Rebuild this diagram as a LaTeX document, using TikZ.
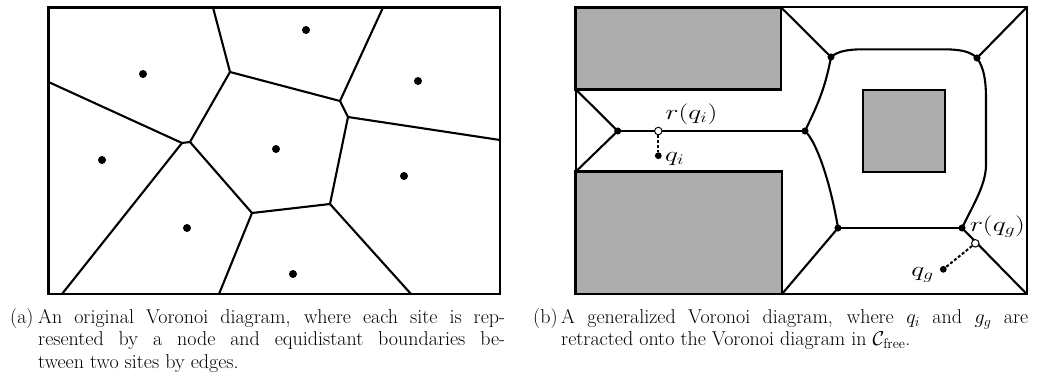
\RequirePackage{fix-cm}
\documentclass[tikz,border=0pt]{standalone}
\usepackage{amsmath}
\usepackage{graphicx}
\definecolor{obgray}{RGB}{173,173,173}
\begin{document}
\begin{tikzpicture}[x=1pt,y=-1pt,
  frame/.style={line width=2.7pt},
  vedge/.style={line width=2.1pt, line join=round},
  site/.style={circle,fill=black,inner sep=0pt,minimum size=8pt},
  vtx/.style={circle,fill=black,inner sep=0pt,minimum size=6.8pt},
  proj/.style={circle,draw=black,fill=white,line width=1pt,inner sep=0pt,minimum size=7.5pt},
  obst/.style={fill=obgray,draw=black,line width=2.7pt},
  ret/.style={line width=2pt,dash pattern=on 3pt off 2pt},
  lbl/.style={font=\fontsize{20}{24}\selectfont,inner sep=0pt},
  capt/.style={anchor=north west,inner sep=0pt,text width=495pt,align=justify,
    font=\fontsize{20}{22.5}\selectfont}
]
\useasboundingbox (0,0) rectangle (1038,380);

% ---------- (a) ----------
\coordinate (t1) at (213,7.5);
\coordinate (t2) at (383,7.5);
\coordinate (r1) at (500,140);
\coordinate (b1) at (411,294);
\coordinate (b2) at (219,294);
\coordinate (b3) at (62,294);
\coordinate (l1) at (48.5,82);
\coordinate (v1) at (230,72);
\coordinate (v2) at (340,101);
\coordinate (v3) at (348,117);
\coordinate (v4) at (330,204);
\coordinate (v5) at (252,213);
\coordinate (v6) at (190,142);
\coordinate (v7) at (182,143);
\draw[vedge] (t1)--(v1)--(v2)--(t2);
\draw[vedge] (v2)--(v3)--(r1);
\draw[vedge] (v3)--(v4)--(b1);
\draw[vedge] (v4)--(v5)--(b2);
\draw[vedge] (v5)--(v6)--(v1);
\draw[vedge] (v6)--(v7)--(l1);
\draw[vedge] (v7)--(b3);
\draw[frame] (48.5,7.5) rectangle (500,294);
\node[site] (s1) at (306,30) {};
\node[site] (s2) at (143,74) {};
\node[site] (s3) at (418,81) {};
\node[site] (s4) at (102,160) {};
\node[site] (s5) at (276,149) {};
\node[site] (s6) at (404,176) {};
\node[site] (s7) at (187,228) {};
\node[site] (s8) at (293,274) {};

\node[capt] (capa) at (10,307.3) {\hangindent=28pt\hangafter=1\noindent\strut\makebox[28pt][l]{(a)}An original Voronoi diagram, where each site is rep-\linebreak resented by a node and equidistant boundaries be-\linebreak tween two sites by edges.\par};

% ---------- (b) ----------
\coordinate (TLb) at (781,7.3);
\coordinate (TRb) at (1026.7,7.3);
\coordinate (BRb) at (1026.7,294);
\coordinate (BLb) at (782,294);
\coordinate (o1) at (575.7,89.3);
\coordinate (o2) at (575.7,171.7);
\draw[line width=2.1pt] (575.7,7.3) rectangle (1026.7,294);
\draw[obst] (575.7,7.3) rectangle (781,89.3);
\draw[obst] (575.7,171.7) rectangle (782,294);
\draw[obst,line width=2.1pt] (862.7,90) rectangle (945,171.7);

\node[vtx] (A) at (831,57) {};
\node[vtx] (B) at (977,58) {};
\node[vtx] (C) at (962,228) {};
\node[vtx] (D) at (838,228) {};
\node[vtx] (E) at (805,131) {};
\node[vtx] (F) at (617.7,131) {};

\draw[vedge] (TLb) -- (A.center);
\draw[vedge] (B.center) -- (TRb);
\draw[vedge] (C.center) -- (BRb);
\draw[vedge] (D.center) -- (BLb);
\draw[vedge] (C.center) -- (D.center);
\draw[vedge] (E.center) -- (F.center);
\draw[vedge] (o1) -- (F.center) -- (o2);
\draw[vedge] (A.center) .. controls (838,51) and (848,49.5) .. (862,49.3) -- (945,49.3) .. controls (962,49.5) and (971,52) .. (B.center);
\draw[vedge] (B.center) .. controls (984,68) and (986,80) .. (986,100) -- (986,165) .. controls (986,185) and (972,207) .. (C.center);
\draw[vedge] (E.center) .. controls (816,108) and (825,90) .. (A.center);
\draw[vedge] (E.center) .. controls (816,141) and (830,180) .. (D.center);
\node[vtx] at (A) {};
\node[vtx] at (B) {};
\node[vtx] at (C) {};
\node[vtx] at (D) {};
\node[vtx] at (E) {};
\node[vtx] at (F) {};

\node[proj] (rqi) at (658.3,131) {};
\node[vtx] (qi) at (658.3,155.7) {};
\draw[ret] (rqi) -- (qi);
\node[proj] (rqg) at (975.3,243.3) {};
\node[vtx] (qg) at (943.3,269.3) {};
\draw[ret] (rqg) -- (qg);

\node[lbl] (lrqi) at (691.5,114.5) {\scalebox{1.38}[1.05]{$r(q_i)$}};
\node[lbl,anchor=west] (lqi) at (665,159) {\scalebox{1.38}[1.05]{$q_i$}};
\node[lbl,anchor=east] (lqg) at (934,275) {\scalebox{1.38}[1.05]{$q_g$}};
\node[lbl] (lrqg) at (997.5,226.5) {\scalebox{1.38}[1.05]{$r(q_g)$}};

\node[capt] (capb) at (533,307.3) {\hangindent=28pt\hangafter=1\noindent\strut\makebox[28pt][l]{(b)}A generalized Voronoi diagram, where $q_i$ and $g_g$ are\linebreak retracted onto the Voronoi diagram in $\mathcal{C}_{\text{free}}$.\par};
\end{tikzpicture}
\end{document}
